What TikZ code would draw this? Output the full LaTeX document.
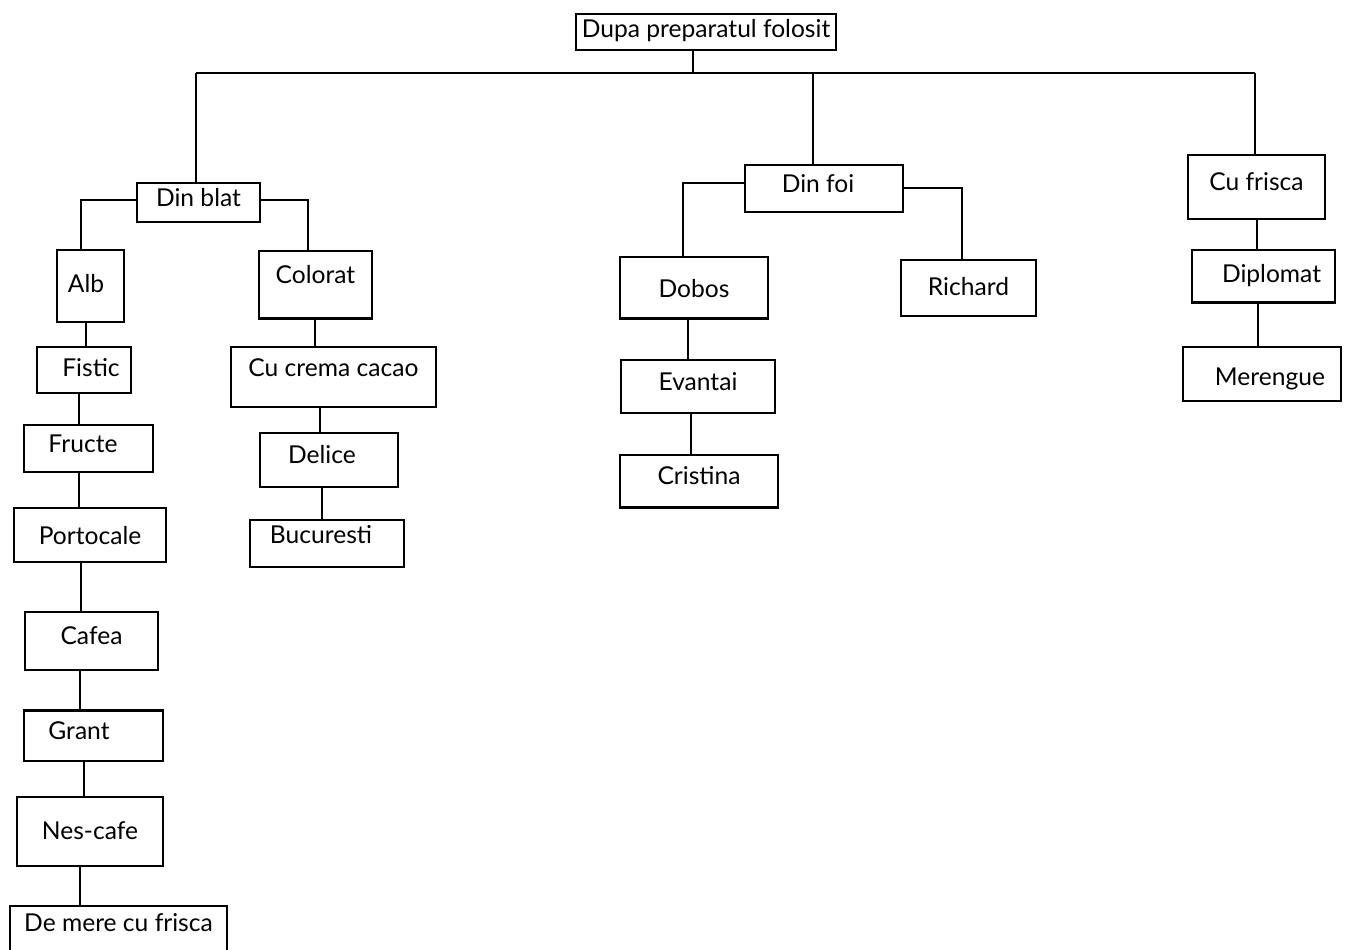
\documentclass[tikz,border=0pt]{standalone}
\usepackage{fontspec}
\setmainfont{Lato}
\usetikzlibrary{positioning}

\tikzset{
  cutie/.style={draw,line width=0.75pt,inner sep=1pt,text height=0.35cm,text depth=0.2cm,
    font=\fontsize{14}{16}\selectfont},
  legatura/.style={line width=0.75pt},
  gros/.style={line width=1.4pt},
}

\begin{document}
\begin{tikzpicture}[x=0.02cm,y=-0.02cm]
\useasboundingbox (0,0) rectangle (1349,950);
% radacina
\node[cutie,minimum width=5.2cm,minimum height=0.72cm,text depth=0.12cm] (top) at (706,32) {Dupa preparatul folosit};
\coordinate (j0) at (693,73);
\coordinate (busL) at (196,73);
\coordinate (j1) at (813,73);
\coordinate (busR) at (1255,73);
% nivelul 1
\node[cutie,gros,minimum width=2.46cm,minimum height=0.78cm] (dinblat) at (198.5,202.5) {Din blat};
\node[cutie,minimum width=3.16cm,minimum height=0.94cm] (dinfoi) at (824,188.5) {Din foi\hspace*{0.24cm}};
\node[cutie,minimum width=2.74cm,minimum height=1.28cm] (cufrisca) at (1256.5,187) {Cu frisca};
% din blat
\node[cutie,minimum width=1.34cm,minimum height=1.44cm,text height=0.45cm] (alb) at (90.5,286) {Alb\hspace*{0.18cm}};
\node[cutie,minimum width=1.88cm,minimum height=0.92cm,text height=0.45cm] (fistic) at (84,370) {\hspace*{0.28cm}Fistic};
\node[cutie,minimum width=2.58cm,minimum height=0.94cm] (fructe) at (88.5,448.5) {Fructe\hspace*{0.22cm}};
\node[cutie,gros,minimum width=3.04cm,minimum height=1.08cm,text height=0.57cm] (portocale) at (90,535) {Portocale};
\node[cutie,minimum width=2.66cm,minimum height=1.16cm] (cafea) at (91.5,641) {Cafea};
\node[cutie,minimum width=2.78cm,minimum height=1.0cm] (grant) at (93.5,736) {Grant\hspace*{0.58cm}};
\node[cutie,minimum width=2.92cm,minimum height=1.38cm,text height=0.53cm] (nescafe) at (90,831.5) {Nes-cafe};
\node[cutie,minimum width=4.34cm,minimum height=0.98cm,text depth=0.3cm] (demere) at (118.5,930.5) {De mere cu frisca};
\node[cutie,minimum width=2.26cm,minimum height=1.34cm,text depth=0.38cm] (colorat) at (315.5,284.5) {Colorat};
\node[cutie,minimum width=4.1cm,minimum height=1.2cm,text depth=0.38cm] (cucrema) at (333.5,377) {Cu crema cacao};
\node[cutie,minimum width=2.76cm,minimum height=1.08cm] (delice) at (329,460) {Delice\hspace*{0.28cm}};
\node[cutie,minimum width=3.08cm,minimum height=0.94cm,text depth=0.34cm] (bucuresti) at (327,543.5) {Bucuresti\hspace*{0.24cm}};
% din foi
\node[cutie,minimum width=2.96cm,minimum height=1.22cm,text height=0.61cm] (dobos) at (694,287.5) {Dobos};
\node[cutie,minimum width=3.08cm,minimum height=1.06cm] (evantai) at (698,386.5) {Evantai};
\node[cutie,minimum width=3.16cm,minimum height=1.04cm] (cristina) at (699,481) {Cristina};
\node[cutie,minimum width=2.7cm,minimum height=1.12cm,text height=0.49cm] (richard) at (968.5,288) {Richard};
% cu frisca
\node[cutie,minimum width=2.86cm,minimum height=1.04cm,text height=0.45cm] (diplomat) at (1263.5,276) {\hspace*{0.32cm}Diplomat};
\node[cutie,minimum width=3.16cm,minimum height=1.08cm,text height=0.65cm] (merengue) at (1262,374) {\hspace*{0.32cm}Merengue};

% muchii mai groase
\draw[gros] (colorat.south west) -- (colorat.south east);
\draw[gros] (dobos.south west) -- (dobos.south east);
\draw[gros] (cristina.south west) -- (cristina.south east);
\draw[gros] (diplomat.south west) -- (diplomat.south east);
\draw[gros] (grant.north west) -- (grant.north east);

% legaturi
\draw[legatura] (top.south -| j0) -- (j0);
\draw[gros] (busL) -- (busR);
\draw[legatura] (busL) -- (dinblat.north -| busL);
\draw[legatura] (j1) -- (dinfoi.north -| j1);
\draw[legatura] (busR) -- (cufrisca.north -| busR);

\draw[gros] (dinblat.west |- 0,200) -- (81,200) -- (alb.north -| 81,0);
\draw[gros] (dinblat.east |- 0,200) -- (308,200) -- (colorat.north -| 308,0);
\draw[legatura] (alb.south -| 86,0) -- (fistic.north -| 86,0);
\draw[legatura] (fistic.south -| 79,0) -- (fructe.north -| 79,0);
\draw[gros] (fructe.south -| 79,0) -- (portocale.north -| 79,0);
\draw[legatura] (portocale.south -| 81,0) -- (cafea.north -| 81,0);
\draw[legatura] (cafea.south -| 80,0) -- (grant.north -| 80,0);
\draw[legatura] (grant.south -| 84,0) -- (nescafe.north -| 84,0);
\draw[legatura] (nescafe.south -| 80,0) -- (demere.north -| 80,0);
\draw[gros] (colorat.south -| 315,0) -- (cucrema.north -| 315,0);
\draw[legatura] (cucrema.south -| 320,0) -- (delice.north -| 320,0);
\draw[legatura] (delice.south -| 322,0) -- (bucuresti.north -| 322,0);

\draw[gros] (dinfoi.west |- 0,183) -- (683,183) -- (dobos.north -| 683,0);
\draw[legatura] (dinfoi.east |- 0,188) -- (962,188) -- (richard.north -| 962,0);
\draw[legatura] (dobos.south -| 688,0) -- (evantai.north -| 688,0);
\draw[legatura] (evantai.south -| 691,0) -- (cristina.north -| 691,0);

\draw[gros] (cufrisca.south -| 1257,0) -- (diplomat.north -| 1257,0);
\draw[legatura] (diplomat.south -| 1258,0) -- (merengue.north -| 1258,0);
\end{tikzpicture}
\end{document}
